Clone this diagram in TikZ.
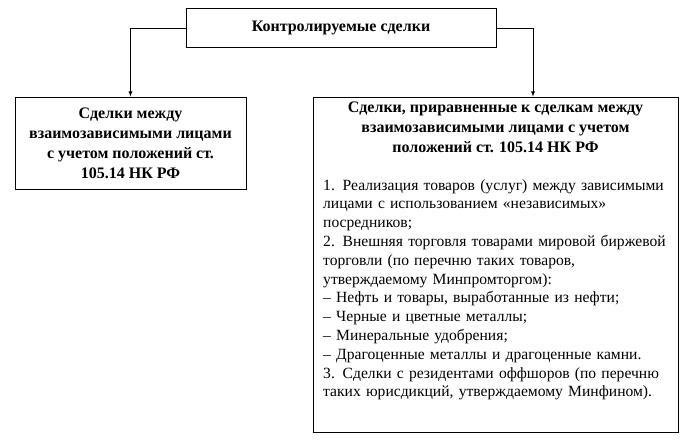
\documentclass[tikz,border=0pt]{standalone}
\usepackage{fontspec}
\setmainfont{Liberation Serif}
\usetikzlibrary{positioning}
\tikzset{
	box/.style={draw, thick, rectangle, inner sep=2pt},
	head/.style={font=\fontsize{16}{20}\selectfont\bfseries, align=center},
	body/.style={font=\fontsize{15.6}{18.8}\selectfont, align=left, text width=350pt, inner sep=0pt},
}
\begin{document}
\begin{tikzpicture}[x=1pt, y=-1pt]
	\useasboundingbox (0,0) rectangle (687,442);
	
	\node (top) [box, minimum width=310pt, minimum height=39pt] at (341,28) {};
	\node [head] at (top) {Контролируемые сделки};
	
	\node (left) [box, minimum width=231pt, minimum height=92pt] at (130.5,143) {};
	\node (ltext) [head] at (left) {Сделки между\\взаимозависимыми лицами\\с учетом положений ст.\\105.14 НК РФ};
	
	\node (right) [box, minimum width=365pt, minimum height=335pt] at (495.5,264.5) {};
	\node (rhead) [head, below=2pt of right.north] {Сделки, приравненные к сделкам между\\взаимозависимыми лицами с учетом\\положений ст. 105.14 НК РФ};
	\node (rtext) [body, anchor=north west] at (323,179) {1. Реализация товаров (услуг) между зависимыми\\лицами с использованием «независимых»\\посредников;\\2. Внешняя торговля товарами мировой биржевой\\торговли (по перечню таких товаров,\\утверждаемому Минпромторгом):\\– Нефть и товары, выработанные из нефти;\\– Черные и цветные металлы;\\– Минеральные удобрения;\\– Драгоценные металлы и драгоценные камни.\\3. Сделки с резидентами оффшоров (по перечню\\таких юрисдикций, утверждаемому Минфином).};
	
	\begin{scope}[thick, black, ->, >=latex]
		\draw (top.west) -| (left.north);
		\draw (top.east) -| (533,0 |- right.north);
	\end{scope}
	
\end{tikzpicture}
\end{document}
